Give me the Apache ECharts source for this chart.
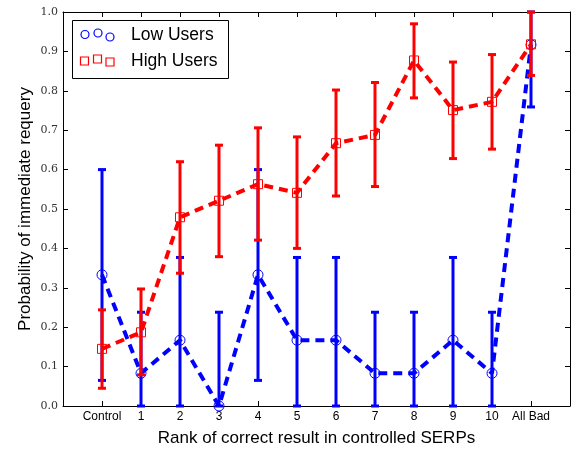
<!DOCTYPE html>
<html><head><meta charset="utf-8">
<script src="https://cdn.jsdelivr.net/npm/echarts@6/dist/echarts.min.js"></script>
<style>html,body{margin:0;padding:0;background:#fff}#c{width:574px;height:449px}</style>
</head><body><div id="c"></div>
<script>
const categories = ['Control','1','2','3','4','5','6','7','8','9','10','All Bad'];
const lowMean = [0.333,0.083,0.167,0.0,0.333,0.167,0.167,0.083,0.083,0.167,0.083,0.917];
const lowLo   = [0.065,0.0,0.0,0.0,0.065,0.0,0.0,0.0,0.0,0.0,0.0,0.759];
const lowHi   = [0.600,0.238,0.377,0.238,0.600,0.377,0.377,0.238,0.238,0.377,0.238,1.0];
const highMean = [0.145,0.187,0.479,0.521,0.563,0.541,0.667,0.688,0.877,0.751,0.772,0.918];
const highLo   = [0.045,0.079,0.337,0.379,0.421,0.400,0.533,0.557,0.782,0.628,0.652,0.839];
const highHi   = [0.244,0.297,0.620,0.662,0.706,0.683,0.802,0.821,0.970,0.873,0.892,1.0];
const yTicks = [0,0.1,0.2,0.3,0.4,0.5,0.6,0.7,0.8,0.9,1.0];

const chart = echarts.init(document.getElementById('c'));
function errSeries(lo, hi, color, z){
  return {
    type:'custom', z:z, silent:true,
    data: lo.map((v,i)=>[i, v, hi[i]]),
    encode:{x:0, y:[1,2]},
    renderItem:function(params, api){
      const x = api.value(0);
      const p1 = api.coord([x, api.value(1)]);
      const p2 = api.coord([x, api.value(2)]);
      const cw = 4;
      const st = {stroke:color, lineWidth:3};
      return {type:'group', children:[
        {type:'line', shape:{x1:p1[0],y1:p1[1],x2:p2[0],y2:p2[1]}, style:st},
        {type:'line', shape:{x1:p1[0]-cw,y1:p1[1],x2:p1[0]+cw,y2:p1[1]}, style:st},
        {type:'line', shape:{x1:p2[0]-cw,y1:p2[1],x2:p2[0]+cw,y2:p2[1]}, style:st}
      ]};
    }
  };
}
const axisLineStyle = {show:true, onZero:false, lineStyle:{color:'#000', width:1}};
const tickStyle = {show:true, inside:true, length:5, lineStyle:{color:'#000', width:1}};
const option = {
  animation:false,
  grid:{left:63, right:4, top:12, bottom:43, containLabel:false, outerBoundsMode:'none'},
  xAxis:[{
    type:'value', min:-1, max:12, interval:1,
    axisLine:axisLineStyle, axisTick:tickStyle, splitLine:{show:false},
    axisLabel:{margin:5, color:'#000', fontFamily:'Liberation Sans', fontSize:12,
      showMinLabel:false, showMaxLabel:false,
      formatter:function(v){ return (v>=0 && v<categories.length) ? categories[v] : ''; }},
    name:'Rank of correct result in controlled SERPs', nameLocation:'middle', nameGap:24,
    nameMoveOverlap:false,
    nameTextStyle:{color:'#000', fontFamily:'Liberation Sans', fontSize:17}
  },{
    type:'value', min:-1, max:12, interval:1, position:'top',
    axisLine:axisLineStyle, axisTick:tickStyle, axisLabel:{show:false}, splitLine:{show:false}
  }],
  yAxis:[{
    type:'value', min:yTicks[0], max:yTicks[yTicks.length-1], interval:0.1,
    axisLine:axisLineStyle, axisTick:tickStyle, splitLine:{show:false},
    axisLabel:{margin:5, color:'#333', fontFamily:'DejaVu Serif', fontSize:11,
      formatter:function(v){ return v.toFixed(1); }},
    name:'Probability of immediate requery', nameLocation:'middle', nameGap:29,
    nameMoveOverlap:false,
    nameTextStyle:{color:'#000', fontFamily:'Liberation Sans', fontSize:17}
  },{
    type:'value', min:0, max:1, interval:0.1, position:'right',
    axisLine:axisLineStyle, axisTick:tickStyle, axisLabel:{show:false}, splitLine:{show:false}
  }],
  series:[
    errSeries(lowLo, lowHi, '#0000ff', 2),
    {type:'line', z:3, data:lowMean.map((v,i)=>[i,v]), symbol:'circle', symbolSize:10,
      itemStyle:{color:'rgba(0,0,0,0)', borderColor:'#0000ff', borderWidth:1},
      lineStyle:{color:'#0000ff', width:4, type:[9,6]}},
    errSeries(highLo, highHi, '#ff0000', 4),
    {type:'line', z:5, data:highMean.map((v,i)=>[i,v]), symbol:'rect', symbolSize:9,
      itemStyle:{color:'rgba(0,0,0,0)', borderColor:'#ff0000', borderWidth:1},
      lineStyle:{color:'#ff0000', width:4, type:[9,6]}}
  ],
  graphic:[
    {type:'rect', left:72, top:20, z:100, shape:{width:156, height:58}, style:{fill:'#fff', stroke:'#000', lineWidth:1}},
    {type:'circle', z:101, shape:{cx:85, cy:34.5, r:4}, style:{fill:'none', stroke:'#0000ff', lineWidth:1.2}},
    {type:'circle', z:101, shape:{cx:98, cy:33, r:4}, style:{fill:'none', stroke:'#0000ff', lineWidth:1.2}},
    {type:'circle', z:101, shape:{cx:110, cy:37, r:4}, style:{fill:'none', stroke:'#0000ff', lineWidth:1.2}},
    {type:'rect', z:101, shape:{x:80.5, y:57, width:8, height:8}, style:{fill:'none', stroke:'#ff0000', lineWidth:1.2}},
    {type:'rect', z:101, shape:{x:93.5, y:55, width:8, height:8}, style:{fill:'none', stroke:'#ff0000', lineWidth:1.2}},
    {type:'rect', z:101, shape:{x:106, y:58, width:8, height:8}, style:{fill:'none', stroke:'#ff0000', lineWidth:1.2}},
    {type:'text', z:101, left:131, top:26, style:{text:'Low Users', fill:'#000', font:'17.5px "Liberation Sans"'}},
    {type:'text', z:101, left:131, top:52, style:{text:'High Users', fill:'#000', font:'17.5px "Liberation Sans"'}}
  ]
};
chart.setOption(option);
</script>
</body></html>
